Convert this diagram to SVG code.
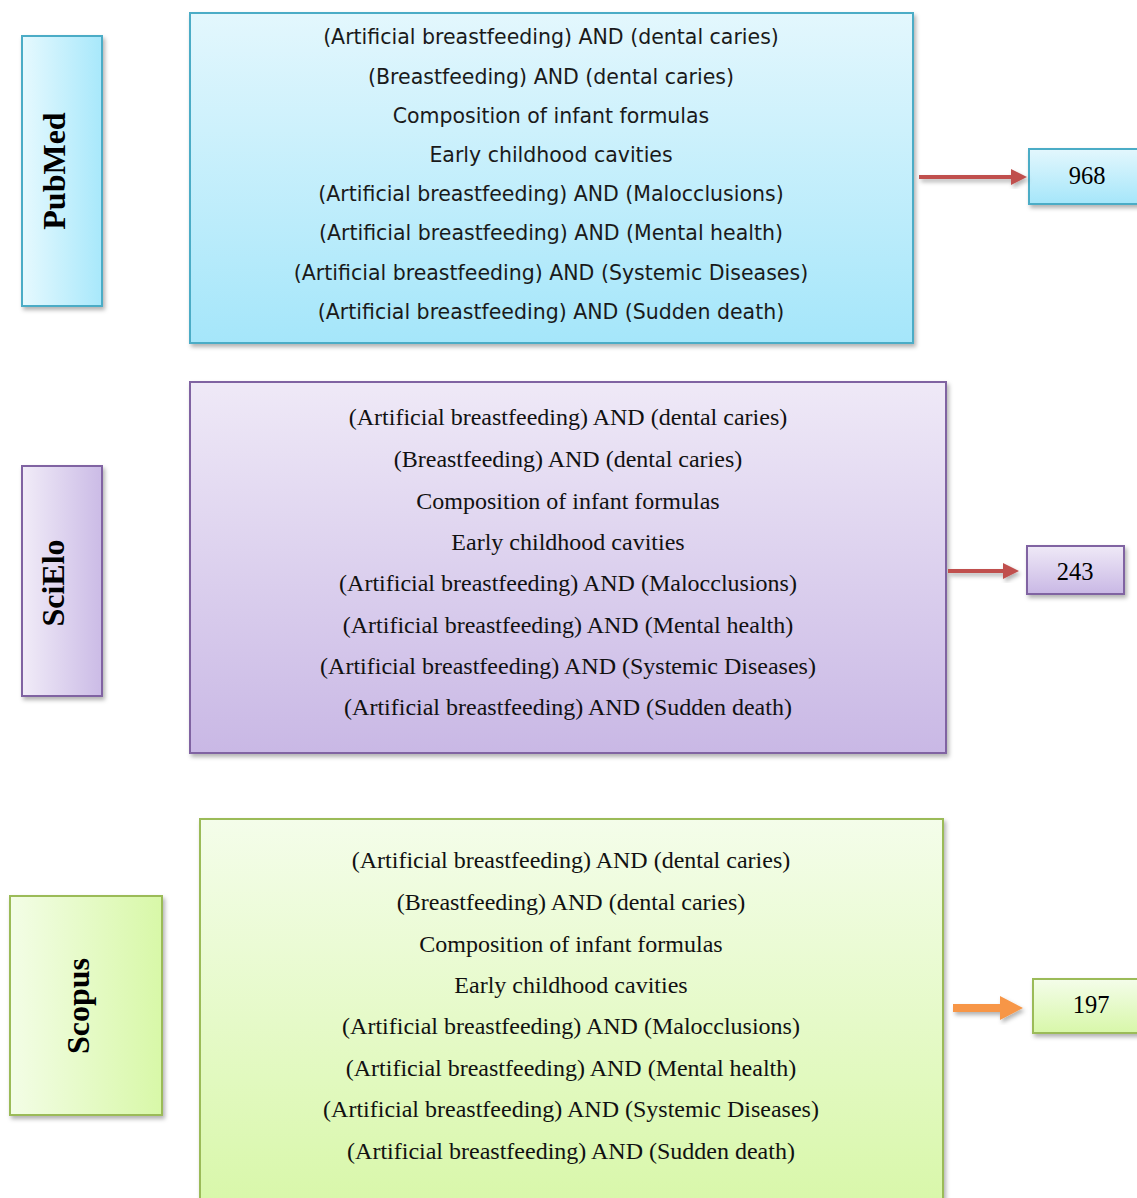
<svg xmlns="http://www.w3.org/2000/svg" width="1137" height="1198" viewBox="0 0 1137 1198">
<defs>
<linearGradient id="bH" x1="0" y1="0" x2="1" y2="0"><stop offset="0" stop-color="#e6f9fe"/><stop offset="1" stop-color="#a8e8fb"/></linearGradient>
<linearGradient id="bV" x1="0" y1="0" x2="0" y2="1"><stop offset="0" stop-color="#e3f7fd"/><stop offset="1" stop-color="#a5e6fa"/></linearGradient>
<linearGradient id="pH" x1="0" y1="0" x2="1" y2="0"><stop offset="0" stop-color="#f1ecf8"/><stop offset="1" stop-color="#cbbbe6"/></linearGradient>
<linearGradient id="pV" x1="0" y1="0" x2="0" y2="1"><stop offset="0" stop-color="#efe9f7"/><stop offset="1" stop-color="#c9b8e5"/></linearGradient>
<linearGradient id="gH" x1="0" y1="0" x2="1" y2="0"><stop offset="0" stop-color="#f3fde6"/><stop offset="1" stop-color="#d8f8a8"/></linearGradient>
<linearGradient id="gV" x1="0" y1="0" x2="0" y2="1"><stop offset="0" stop-color="#f4fdea"/><stop offset="1" stop-color="#d8f7a9"/></linearGradient>
<filter id="sh" x="-10%" y="-10%" width="130%" height="130%"><feDropShadow dx="2" dy="3" stdDeviation="2" flood-color="#000" flood-opacity="0.3"/></filter>
</defs>
<style>
.blue{stroke:#4bacc6;stroke-width:2}
.purple{stroke:#8064a2;stroke-width:2}
.green{stroke:#9bbb59;stroke-width:2}
.sans{font-family:"DejaVu Sans",sans-serif;font-size:20.5px;fill:#1a1a1a;text-anchor:middle}
.serif{font-family:"Liberation Serif","Times New Roman",serif;font-size:24px;fill:#111;text-anchor:middle}
.lbl{font-family:"Liberation Serif","Times New Roman",serif;font-size:32px;font-weight:bold;fill:#000;text-anchor:middle}
.num{font-family:"Liberation Serif","Times New Roman",serif;font-size:24.5px;fill:#000;text-anchor:middle}
</style>

<g id="pubmed-label">
<rect x="22" y="36" width="80" height="270" fill="url(#bH)" class="blue" filter="url(#sh)"/>
<text class="lbl" transform="translate(54 171) rotate(-90)" dominant-baseline="central">PubMed</text>
</g>
<g id="pubmed-queries">
<rect x="190" y="13" width="723" height="330" fill="url(#bV)" class="blue" filter="url(#sh)"/>
<g class="sans" dominant-baseline="central">
<text x="551" y="37">(Artificial breastfeeding) AND (dental caries)</text>
<text x="551" y="77">(Breastfeeding) AND (dental caries)</text>
<text x="551" y="116">Composition of infant formulas</text>
<text x="551" y="155">Early childhood cavities</text>
<text x="551" y="194">(Artificial breastfeeding) AND (Malocclusions)</text>
<text x="551" y="233">(Artificial breastfeeding) AND (Mental health)</text>
<text x="551" y="273">(Artificial breastfeeding) AND (Systemic Diseases)</text>
<text x="551" y="312">(Artificial breastfeeding) AND (Sudden death)</text>
</g>
</g>
<g id="pubmed-count">
<rect x="1029" y="149" width="112" height="55" fill="url(#bV)" class="blue" filter="url(#sh)"/>
<text class="num" x="1087" y="175" dominant-baseline="central">968</text>
</g>

<g id="scielo-label">
<rect x="22" y="466" width="80" height="230" fill="url(#pH)" class="purple" filter="url(#sh)"/>
<text class="lbl" transform="translate(53 583) rotate(-90)" dominant-baseline="central">SciElo</text>
</g>
<g id="scielo-queries">
<rect x="190" y="382" width="756" height="371" fill="url(#pV)" class="purple" filter="url(#sh)"/>
<g class="serif" dominant-baseline="central">
<text x="568" y="417">(Artificial breastfeeding) AND (dental caries)</text>
<text x="568" y="459">(Breastfeeding) AND (dental caries)</text>
<text x="568" y="501">Composition of infant formulas</text>
<text x="568" y="542">Early childhood cavities</text>
<text x="568" y="583">(Artificial breastfeeding) AND (Malocclusions)</text>
<text x="568" y="625">(Artificial breastfeeding) AND (Mental health)</text>
<text x="568" y="666">(Artificial breastfeeding) AND (Systemic Diseases)</text>
<text x="568" y="707">(Artificial breastfeeding) AND (Sudden death)</text>
</g>
</g>
<g id="scielo-count">
<rect x="1027" y="546" width="97" height="48" fill="url(#pV)" class="purple" filter="url(#sh)"/>
<text class="num" x="1075" y="571" dominant-baseline="central">243</text>
</g>

<g id="scopus-label">
<rect x="10" y="896" width="152" height="219" fill="url(#gH)" class="green" filter="url(#sh)"/>
<text class="lbl" transform="translate(78 1006) rotate(-90)" dominant-baseline="central">Scopus</text>
</g>
<g id="scopus-queries">
<rect x="200" y="819" width="743" height="390" fill="url(#gV)" class="green" filter="url(#sh)"/>
<g class="serif" dominant-baseline="central">
<text x="571" y="860">(Artificial breastfeeding) AND (dental caries)</text>
<text x="571" y="902">(Breastfeeding) AND (dental caries)</text>
<text x="571" y="944">Composition of infant formulas</text>
<text x="571" y="985">Early childhood cavities</text>
<text x="571" y="1026">(Artificial breastfeeding) AND (Malocclusions)</text>
<text x="571" y="1068">(Artificial breastfeeding) AND (Mental health)</text>
<text x="571" y="1109">(Artificial breastfeeding) AND (Systemic Diseases)</text>
<text x="571" y="1151">(Artificial breastfeeding) AND (Sudden death)</text>
</g>
</g>
<g id="scopus-count">
<rect x="1033" y="979" width="110" height="54" fill="url(#gV)" class="green" filter="url(#sh)"/>
<text class="num" x="1091" y="1004" dominant-baseline="central">197</text>
</g>

<g id="connectors">
<path d="M919 175 H1011 V169 L1027 177 L1011 185 V179 H919 Z" fill="#c0504d" filter="url(#sh)"/>
<path d="M948 569 H1003 V563 L1019 571 L1003 579 V573 H948 Z" fill="#c0504d" filter="url(#sh)"/>
<path d="M953 1004 H1000 V996 L1023 1008 L1000 1020 V1012 H953 Z" fill="#f79646" filter="url(#sh)"/>
</g>
</svg>
